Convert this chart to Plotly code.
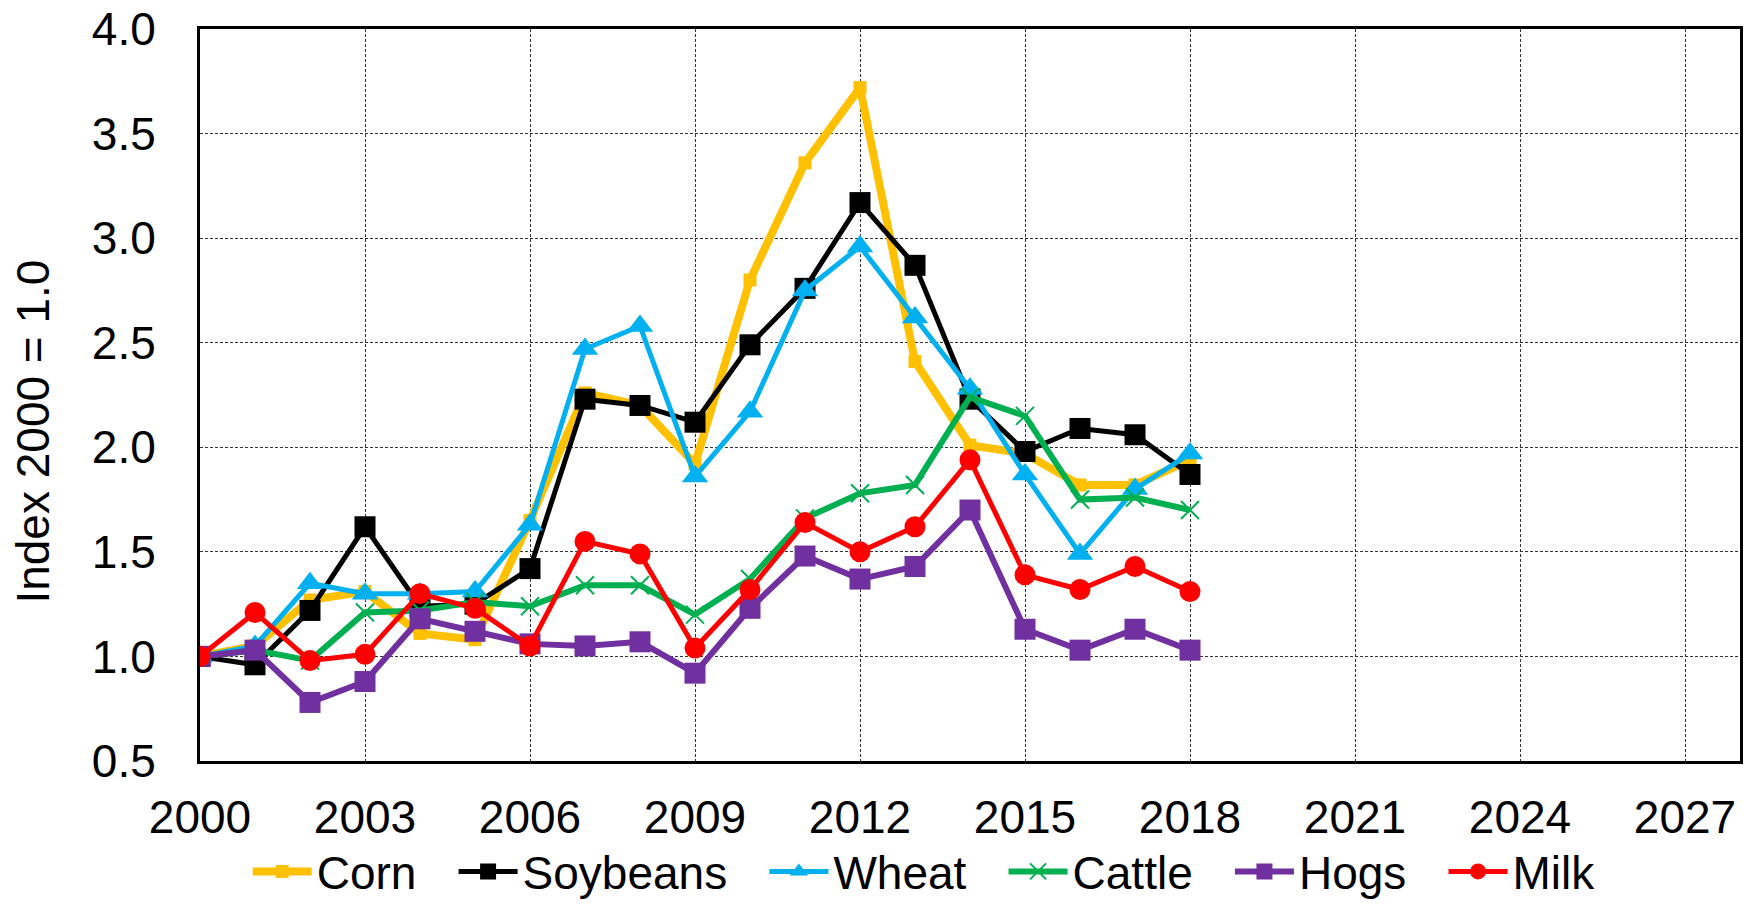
import plotly.graph_objects as go

years = list(range(2000, 2019))

corn = [1.00, 1.05, 1.27, 1.31, 1.11, 1.08, 1.65, 2.26, 2.20, 1.92, 2.80, 3.36, 3.72, 2.41, 2.01, 1.97, 1.82, 1.82, 1.94]
soybeans = [1.00, 0.96, 1.22, 1.62, 1.24, 1.25, 1.42, 2.23, 2.20, 2.12, 2.49, 2.76, 3.17, 2.87, 2.23, 1.98, 2.09, 2.06, 1.87]
wheat = [1.00, 1.05, 1.35, 1.30, 1.30, 1.31, 1.63, 2.47, 2.58, 1.86, 2.17, 2.75, 2.96, 2.62, 2.28, 1.87, 1.49, 1.80, 1.97]
cattle = [1.00, 1.03, 0.98, 1.21, 1.22, 1.26, 1.24, 1.34, 1.34, 1.20, 1.37, 1.66, 1.78, 1.82, 2.24, 2.15, 1.75, 1.76, 1.70]
hogs = [1.00, 1.03, 0.78, 0.88, 1.18, 1.12, 1.06, 1.05, 1.07, 0.92, 1.23, 1.48, 1.37, 1.43, 1.70, 1.13, 1.03, 1.13, 1.03]
milk = [1.00, 1.21, 0.98, 1.01, 1.30, 1.23, 1.05, 1.55, 1.49, 1.04, 1.32, 1.64, 1.50, 1.62, 1.94, 1.39, 1.32, 1.43, 1.31]

x_ticks = list(range(2000, 2028, 3))
y_ticks = [0.5, 1.0, 1.5, 2.0, 2.5, 3.0, 3.5, 4.0]

GAP = "\u2002\u2009"
series = [
    ("Corn", corn, "#FFC000", 8, "square", 13, None, GAP),
    ("Soybeans", soybeans, "#000000", 5, "square", 21, None, GAP),
    ("Wheat", wheat, "#00B0F0", 5, "triangle-up", 23, None, GAP),
    ("Cattle", cattle, "#00B050", 6, "x-thin", 18, 2, GAP),
    ("Hogs", hogs, "#7030A0", 6, "square", 21, None, GAP),
    ("Milk", milk, "#FF0000", 5, "circle", 21, None, ""),
]

fig = go.Figure()
for name, vals, color, lw, sym, ms, mlw, pad in series:
    marker = dict(symbol=sym, size=ms, color=color)
    if mlw:
        marker["line"] = dict(color=color, width=mlw)
    fig.add_trace(go.Scatter(
        x=years, y=vals, name=name + pad, mode="lines+markers",
        line=dict(color=color, width=lw), marker=marker,
    ))

font = "Liberation Sans, Arial, sans-serif"
fig.update_layout(
    width=1754, height=905,
    paper_bgcolor="white", plot_bgcolor="white",
    margin=dict(l=200, r=14, t=29, b=144, autoexpand=False),
    font=dict(family=font, size=46, color="black"),
    showlegend=True,
    legend=dict(
        orientation="h", xref="container", x=0.1412, xanchor="left",
        yref="container", y=0.037, yanchor="middle",
        font=dict(size=46), itemwidth=59, tracegroupgap=0,
        bgcolor="rgba(0,0,0,0)",
    ),
    annotations=[dict(
        text="Index 2000 = 1.0", textangle=-90, showarrow=False,
        xref="paper", yref="paper", x=0, y=0.45, xanchor="center", yanchor="middle",
        xshift=-167, font=dict(size=46, family=font, color="black"),
    )],
)
fig.update_xaxes(
    range=[2000, 2028], tickvals=x_ticks, ticktext=[str(v) for v in x_ticks],
    showgrid=True, gridcolor="#333333", gridwidth=1, griddash="3px,2px",
    showline=True, linecolor="black", linewidth=3, mirror=True,
    ticks="", ticklabelstandoff=14, zeroline=False,
    tickfont=dict(size=46),
)
fig.update_yaxes(
    range=[0.5, 4.0], tickvals=y_ticks, ticktext=[f"{v:.1f}" for v in y_ticks],
    showgrid=True, gridcolor="#333333", gridwidth=1, griddash="3px,2px",
    showline=True, linecolor="black", linewidth=3, mirror=True,
    ticks="", ticklabelstandoff=32, zeroline=False,
    tickfont=dict(size=46),
)

fig.write_html("out.html", config={"displayModeBar": False},
               post_script="document.body.style.margin='0';")
